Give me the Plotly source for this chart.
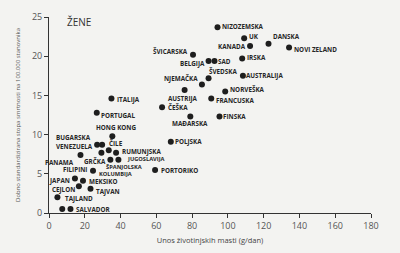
import plotly.graph_objects as go

# ---- data ----
countries = ["NIZOZEMSKA", "UK", "KANADA", "DANSKA", "NOVI ZELAND", "ŠVICARSKA",
             "BELGIJA", "SAD", "IRSKA", "ŠVEDSKA", "NJEMAČKA", "AUSTRALIJA",
             "NORVEŠKA", "AUSTRIJA", "FRANCUSKA", "ČEŠKA", "ITALIJA", "FINSKA",
             "PORTUGAL", "MAĐARSKA", "HONG KONG", "POLJSKA", "VENEZUELA",
             "BUGARSKA", "ČILE", "GRČKA", "RUMUNJSKA", "JUGOSLAVIJA",
             "ŠPANJOLSKA", "PANAMA", "KOLUMBIJA", "PORTORIKO", "FILIPINI",
             "MEKSIKO", "JAPAN", "TAJVAN", "TAJLAND", "CEJLON", "SALVADOR"]
animal_fat = [94.2, 109.1, 112.4, 122.7, 134.2, 80.5,
              89.2, 92.5, 108.0, 89.2, 85.5, 108.4,
              98.5, 75.8, 90.7, 63.2, 34.9, 95.3,
              26.7, 79.0, 35.4, 68.1, 26.9,
              29.7, 33.4, 34.3, 37.5, 38.8,
              29.3, 17.6, 24.6, 59.3, 14.5,
              19.0, 16.7, 23.2, 4.7, 7.4, 12.0]
mortality = [23.7, 22.3, 21.3, 21.6, 21.1, 20.2,
             19.4, 19.4, 19.7, 17.2, 16.4, 17.5,
             15.5, 15.7, 14.6, 13.5, 14.6, 12.3,
             12.8, 12.3, 9.8, 9.1, 8.7,
             8.7, 8.0, 6.8, 7.7, 6.8,
             7.7, 7.4, 5.4, 5.5, 4.4,
             4.1, 3.4, 3.1, 2.0, 0.5, 0.5]
x_ticks = [0, 20, 40, 60, 80, 100, 120, 140, 160, 180]
y_ticks = [0, 5, 10, 15, 20, 25]

# ---- label placement (style only): anchor, x shift px, y shift px ----
label_pos = {
    "NIZOZEMSKA": ("left", 3.5, 1), "UK": ("left", 4, 1.5), "KANADA": ("right", -3, 0),
    "DANSKA": ("left", 3, 7), "NOVI ZELAND": ("left", 3.5, -2.3), "ŠVICARSKA": ("right", -4, 3),
    "BELGIJA": ("right", -3, -3), "SAD": ("left", 3, -1), "IRSKA": ("left", 3.5, 1.5),
    "ŠVEDSKA": ("left", -1, 6.3), "NJEMAČKA": ("right", -3, 5.7), "AUSTRALIJA": ("left", 2.5, 0),
    "NORVEŠKA": ("left", 4, 1.6), "AUSTRIJA": ("center", -2, -8.3), "FRANCUSKA": ("left", 3.5, -2.3),
    "ČEŠKA": ("left", 4.5, 0), "ITALIJA": ("left", 4.5, -1), "FINSKA": ("left", 3, 0.5),
    "PORTUGAL": ("left", 3.5, -3.3), "MAĐARSKA": ("center", 0, -6.7), "HONG KONG": ("center", 3.5, 8.3),
    "POLJSKA": ("left", 3.5, 0.5), "VENEZUELA": ("right", -3.4, -2), "BUGARSKA": ("right", -10, 7.7),
    "ČILE": ("left", -1, 7.2), "GRČKA": ("right", -3.5, -1.5), "RUMUNJSKA": ("left", 5, 1),
    "JUGOSLAVIJA": ("left", 8, 0.3), "ŠPANJOLSKA": ("left", 4, -14.6), "PANAMA": ("right", -5, -7.7),
    "KOLUMBIJA": ("left", 5, -3.5), "PORTORIKO": ("left", 4.6, -0.7), "FILIPINI": ("center", 0.5, 8.7),
    "MEKSIKO": ("left", 4.8, -1), "JAPAN": ("right", -7.8, 5.8), "TAJVAN": ("left", 4, -2.6),
    "TAJLAND": ("left", 6.3, -1), "CEJLON": ("center", 1.3, 19.5), "SALVADOR": ("left", 5, -0.5),
}
small_labels = {"JUGOSLAVIJA", "ŠPANJOLSKA", "KOLUMBIJA"}

ink = "#262626"
fig = go.Figure()
fig.add_trace(go.Scatter(
    x=animal_fat, y=mortality, mode="markers",
    marker=dict(size=6, color="#1e1e1e"),
    cliponaxis=False, hoverinfo="text", text=countries,
))

annotations = []
for name, xv, yv in zip(countries, animal_fat, mortality):
    anchor, dx, dy = label_pos[name]
    size = 5.7 if name in small_labels else 6.3
    annotations.append(dict(
        x=xv, y=yv, xref="x", yref="y", text=name, showarrow=False,
        xanchor=anchor, yanchor="middle", xshift=dx, yshift=dy, borderpad=0,
        font=dict(family="Open Sans", size=size, color=ink, weight="bold"),
    ))
annotations.append(dict(
    x=(65 - 48.5) / 322.5, y=(215 - 15.7) / 205, xref="paper", yref="paper",
    text="ŽENE", showarrow=False, xanchor="left", yanchor="middle",
    font=dict(family="Open Sans", size=10, color="#333333"),
))

fig.update_layout(
    width=400, height=253,
    margin=dict(l=48.5, r=29, t=10, b=38),
    paper_bgcolor="#f3f3f1", plot_bgcolor="#f3f3f1",
    showlegend=False,
    annotations=annotations,
    font=dict(family="Open Sans", color="#444444"),
    xaxis=dict(
        range=[0, 180], tickvals=x_ticks, showgrid=False, zeroline=False,
        showline=True, linecolor="#333333", linewidth=1,
        ticks="outside", ticklen=4, tickcolor="#333333",
        tickfont=dict(size=9, color="#555555"),
        title=dict(text="Unos životinjskih masti (g/dan)",
                   font=dict(size=7.5, color="#444444"), standoff=6),
    ),
    yaxis=dict(
        range=[0, 25], tickvals=y_ticks, showgrid=False, zeroline=False,
        showline=True, linecolor="#333333", linewidth=1,
        ticks="outside", ticklen=4, tickcolor="#333333",
        tickfont=dict(size=9, color="#555555"),
        title=dict(text="Dobno standardizirana stopa smrtnosti na 100.000 stanovnika",
                   font=dict(size=6, color="#555555"), standoff=10),
    ),
)

fig.write_html("out.html")
